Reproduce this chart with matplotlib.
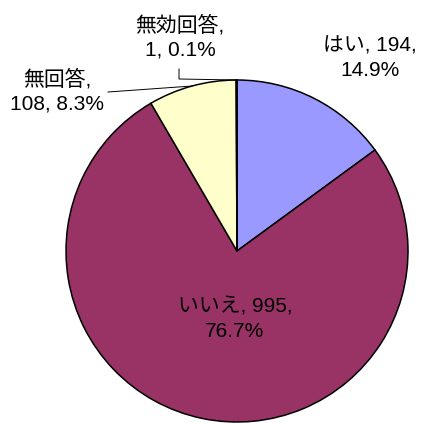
import numpy as np
import matplotlib
matplotlib.use('Agg')
import matplotlib.pyplot as plt

plt.rcParams['font.family'] = ['Liberation Sans', 'Noto Sans CJK JP']

categories = ['はい', 'いいえ', '無回答', '無効回答']
counts = [194, 995, 108, 1]
colors = ['#9999FF', '#993366', '#FFFFCC', '#FFFFFF']
# where each label breaks into two lines (after the name or after the count)
breaks = ['count', 'count', 'name', 'name']

# pixel geometry of the pie in the reference
W, H = 425, 423
CX, CY, R = 237, 251, 171


def px(x, y):
    """pixel (from top-left) -> data coords"""
    return (x - CX) / R, (CY - y) / R


fig = plt.figure(figsize=(W / 100, H / 100), dpi=100)
ax = fig.add_axes([0, 0, 1, 1])

wedges, _ = ax.pie(counts, colors=colors, startangle=90, counterclock=False,
                   radius=1.0, center=(0, 0),
                   wedgeprops=dict(edgecolor='black', linewidth=1.1))
ax.set_aspect('auto')
ax.set_xlim(-CX / R, (W - CX) / R)
ax.set_ylim(-(H - CY) / R, CY / R)
ax.axis('off')

total = sum(counts)
labels = []
for c, n, b in zip(categories, counts, breaks):
    pct = f'{n / total * 100:.1f}%'
    if b == 'name':
        labels.append(f'{c},\n{n}, {pct}')
    else:
        labels.append(f'{c}, {n},\n{pct}')

# label positions (pixels)
label_pos = [(370, 58), (235, 319), (57, 91), (180, 37)]
for lab, (x, y) in zip(labels, label_pos):
    ax.text(*px(x, y), lab, ha='center', va='center', fontsize=15,
            linespacing=1.35)

# leader lines, ending at the wedge mid angle on the rim
def rim(w):
    a = np.radians((w.theta1 + w.theta2) / 2)
    return np.cos(a), np.sin(a)

x0, y0 = px(108, 92)
x1, y1 = rim(wedges[2])
ax.plot([x0, x1], [y0, y1], color='black', lw=0.7)

xa, ya = px(179, 69)
xb, yb = px(179, 79)
x2, y2 = rim(wedges[3])
ax.plot([xa, xb, x2], [ya, yb, y2], color='black', lw=0.7)

fig.savefig('out.png', dpi=100)
